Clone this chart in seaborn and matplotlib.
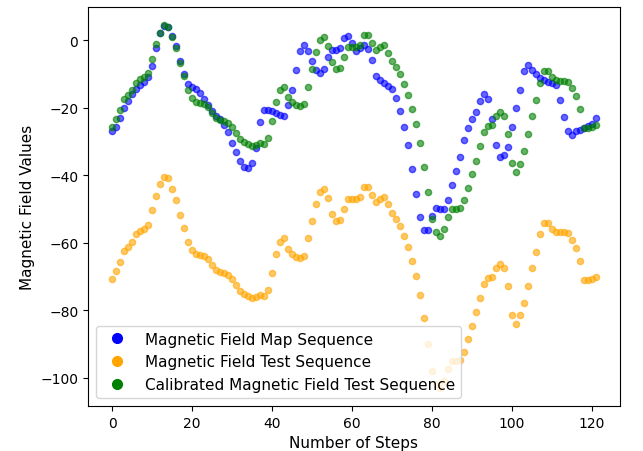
import numpy as np
import pandas as pd
import seaborn as sns
import matplotlib
matplotlib.use("Agg")
import matplotlib.pyplot as plt
from matplotlib.lines import Line2D

# values, one per step
map_seq = [-27, -25.9, -23.2, -20, -18, -16, -14.4, -13.3, -12.3, -10.9,
           -7.8, -2.4, 2.2, 4.3, 3.9, 1.3, -1.9, -6.3, -10.1, -12.9,
           -13.9, -14.5, -15.7, -17.4, -19.3, -21.1, -22.5, -23.5, -25.2, -27.4,
           -30.4, -33.2, -35.9, -37.6, -38, -36.5, -31.9, -24.2, -20.7, -20.6,
           -21.1, -21.7, -22.3, -22.5, -19.3, -14.9, -8.9, -3.4, -1.6, -3.2,
           -6.2, -8.8, -9.7, -8.6, -4.9, -3, -2.9, -2.3, 0.7, 1.1,
           -1, -3.2, -2.5, -1.5, -2.6, -6, -10.6, -11.8, -12.7, -13.7,
           -14.6, -17.2, -21, -25.9, -31, -38.3, -45.7, -52.3, -56.4, -56.3,
           -52, -49.8, -50, -50.2, -47.4, -43, -38.9, -34.6, -29.7, -26,
           -23.4, -21.3, -18.1, -16, -17.5, -23.3, -31.1, -34.6, -34.2, -31.6,
           -25.9, -20, -14.7, -9.2, -7.4, -8.8, -10.1, -11.2, -11.8, -12.3,
           -12.8, -13.4, -17.9, -22.8, -27, -28.2, -27, -26.6, -26.2, -25.6,
           -24.9, -23]

test_seq = [-70.8, -68.5, -65.8, -62.6, -61.2, -59.8, -57.6, -56.6, -56, -54.8,
            -50.5, -46.1, -42.8, -40.5, -41, -44, -47.3, -51.7, -55.8, -59.7,
            -62.2, -63.4, -63.6, -64, -64.8, -66.6, -68.1, -68.6, -69.1, -69.7,
            -70.9, -72.6, -74.3, -75.3, -75.9, -76.5, -76.2, -75.6, -75.8, -74,
            -69, -63.3, -59.8, -58.8, -61.8, -63.4, -64.2, -64.6, -64, -58.8,
            -53.7, -48.5, -45.1, -44, -46.8, -51.5, -53.7, -53.4, -50.1, -47,
            -47, -47, -46.5, -43.5, -43.6, -46, -47.9, -47.2, -46.5, -48.7,
            -51.2, -53.1, -55, -58, -61.2, -65.4, -70, -75.5, -82.5, -90,
            -98, -102, -103, -101, -97.5, -95.2, -95.2, -94.8, -92.5, -88.7,
            -84.8, -80.7, -76.3, -72.2, -70.5, -70.2, -67.4, -66.4, -67.5, -72.8,
            -81.5, -84, -81.6, -77.8, -72.9, -67.4, -62.7, -57.6, -54.1, -54.1,
            -56, -56.8, -57, -57, -57.3, -59.3, -61.6, -65.4, -71, -71.2,
            -70.8, -70.1]

calib_seq = [-25.8, -23.5, -20.8, -17.6, -16.2, -14.8, -12.6, -11.6, -11, -9.8,
             -5.5, -1.1, 2.2, 4.5, 4, 1, -2.3, -6.7, -10.8, -14.7,
             -17.2, -18.4, -18.6, -19, -19.8, -21.6, -23.1, -23.6, -24.1, -24.7,
             -25.9, -27.6, -29.3, -30.3, -30.9, -31.5, -31.2, -30.6, -30.8, -29,
             -24, -18.3, -14.8, -13.8, -16.8, -18.4, -19.2, -19.6, -19, -13.8,
             -8.7, -3.5, -0.1, 1, -1.8, -6.5, -8.7, -8.4, -5.1, -2,
             -2, -2, -1.5, 1.5, 1.4, -1, -2.9, -2.2, -1.5, -3.7,
             -6.2, -8.1, -10, -13, -16.2, -20.4, -25, -30.5, -37.5, -45,
             -53, -57, -58, -56, -52.5, -50.2, -50.2, -49.8, -47.5, -43.7,
             -39.8, -35.7, -31.3, -27.2, -25.5, -25.2, -22.4, -21.4, -22.5, -27.8,
             -36.5, -39, -36.6, -32.8, -27.9, -22.4, -17.7, -12.6, -9.1, -9.1,
             -11, -11.8, -12, -12, -12.3, -14.3, -16.6, -20.4, -26, -26.2,
             -25.8, -25.1]

labels = ["Magnetic Field Map Sequence",
          "Magnetic Field Test Sequence",
          "Calibrated Magnetic Field Test Sequence"]
colors = ["blue", "orange", "green"]

steps = np.arange(len(map_seq))
df = pd.DataFrame({"step": steps, labels[0]: map_seq,
                   labels[1]: test_seq, labels[2]: calib_seq})
long_df = df.melt(id_vars="step", var_name="sequence", value_name="value")

fig, ax = plt.subplots(figsize=(6.43, 4.52), dpi=100)
fig.subplots_adjust(left=0.137, right=0.964, bottom=0.1, top=0.983)

for lab, col in zip(labels, colors):
    sub = long_df[long_df["sequence"] == lab]
    sns.scatterplot(data=sub, x="step", y="value", color=col, edgecolor=col,
                    alpha=0.6, s=20, linewidth=1, ax=ax, legend=False)

handles = [Line2D([0], [0], marker="o", color="w", markerfacecolor=c,
                  markeredgecolor=c, markersize=7, label=l)
           for l, c in zip(labels, colors)]
ax.legend(handles=handles, loc="lower left", fontsize=11)

ax.set_xlabel("Number of Steps", fontsize=11)
ax.set_ylabel("Magnetic Field Values", fontsize=11)

fig.savefig("out.png", dpi=100)
